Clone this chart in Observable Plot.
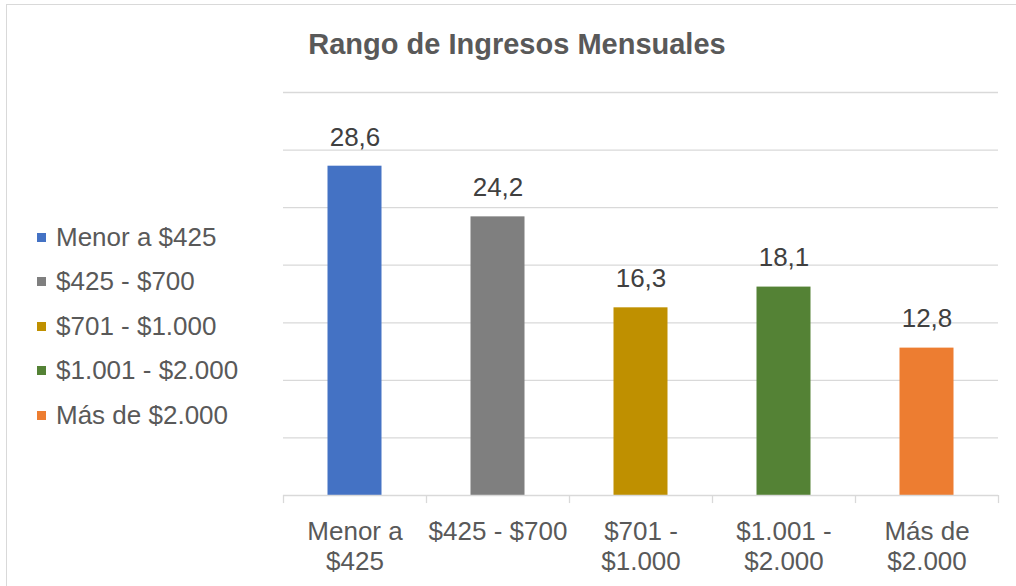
<!DOCTYPE html>
<html>
<head>
<meta charset="utf-8">
<script src="https://cdn.jsdelivr.net/npm/d3@7"></script>
<script src="https://cdn.jsdelivr.net/npm/@observablehq/plot@0.6"></script>
<style>
  html, body { margin: 0; padding: 0; background: #fff; overflow: hidden; }
  body { width: 1016px; height: 586px; position: relative; font-family: "Liberation Sans", Arial, sans-serif; }
  #frame { position: absolute; left: 6px; top: 4px; width: 1100px; height: 700px; border: 1px solid #d9d9d9; box-sizing: border-box; }
  #title { position: absolute; left: 0; width: 1034px; top: 28px; text-align: center; font-size: 29px; font-weight: bold; color: #595959; }
  #legend { position: absolute; left: 37px; top: 220px; }
  .item { height: 44.5px; display: flex; align-items: center; font-size: 26px; color: #595959; transform: translateY(-5px); }
  .sw { width: 9px; height: 9px; margin-right: 10px; flex: none; }
  #chart { position: absolute; left: 0; top: 0; }
</style>
</head>
<body>
<div id="frame"></div>
<div id="chart"></div>
<div id="title">Rango de Ingresos Mensuales</div>
<div id="legend"></div>
<script>
const categories = ["Menor a $425", "$425 - $700", "$701 - $1.000", "$1.001 - $2.000", "Más de $2.000"];
const axisLabels = ["Menor a\n$425", "$425 - $700", "$701 -\n$1.000", "$1.001 -\n$2.000", "Más de\n$2.000"];
const values = [28.6, 24.2, 16.3, 18.1, 12.8];
const colors = ["#4472C4", "#7F7F7F", "#BF9000", "#548235", "#ED7D31"];
const yTicks = [0, 5, 10, 15, 20, 25, 30, 35];

const data = categories.map((c, i) => ({cat: c, value: values[i], color: colors[i]}));
const labelOf = new Map(categories.map((c, i) => [c, axisLabels[i]]));
const fmt = v => d3.format(".1f")(v).replace(".", ",");

const W = 1016, H = 586, mL = 283, mR = 18, mT = 92, mB = 91;
const step = (W - mL - mR) / categories.length;
const barW = 54;

const plot = Plot.plot({
  width: W,
  height: H,
  marginLeft: mL,
  marginRight: mR,
  marginTop: mT,
  marginBottom: mB,
  style: {fontFamily: '"Liberation Sans", Arial, sans-serif', background: "transparent", overflow: "visible"},
  x: {domain: categories, padding: 0, label: null},
  y: {domain: [0, 35], label: null},
  marks: [
    Plot.gridY(yTicks.filter(t => t > 0), {stroke: "#d9d9d9", strokeOpacity: 1, strokeWidth: 1.3}),
    Plot.barY(data, {x: "cat", y: "value", fill: "color", insetLeft: (step - barW) / 2, insetRight: (step - barW) / 2}),
    Plot.ruleY([0], {stroke: "#d9d9d9", strokeWidth: 1.3}),
    Plot.ruleX(categories, {x: d => d, dx: -step / 2, y1: 0, y2: -0.7, stroke: "#d9d9d9", strokeWidth: 1.3}),
    Plot.ruleX(categories.slice(-1), {x: d => d, dx: step / 2, y1: 0, y2: -0.7, stroke: "#d9d9d9", strokeWidth: 1.3}),
    Plot.text(data, {x: "cat", y: "value", text: d => fmt(d.value), dy: -29, lineAnchor: "middle", fontSize: 26, fill: "#404040"}),
    Plot.axisX({tickSize: 0, tickPadding: 24, tickFormat: d => labelOf.get(d), fontSize: 26, lineHeight: 1.13, fill: "#595959", label: null}),
    Plot.axisY({ticks: [], label: null})
  ]
});
document.getElementById("chart").appendChild(plot);

const legend = document.getElementById("legend");
categories.forEach((c, i) => {
  const it = document.createElement("div");
  it.className = "item";
  const sw = document.createElement("span");
  sw.className = "sw";
  sw.style.background = colors[i];
  const tx = document.createElement("span");
  tx.textContent = c;
  it.appendChild(sw);
  it.appendChild(tx);
  legend.appendChild(it);
});
</script>
</body>
</html>
